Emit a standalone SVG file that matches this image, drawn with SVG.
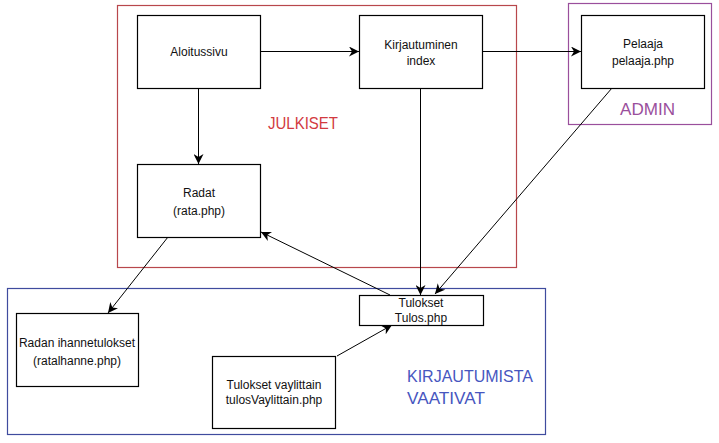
<svg xmlns="http://www.w3.org/2000/svg" width="719" height="443" viewBox="0 0 719 443">
<defs>
<marker id="arr" viewBox="0 0 10 10" refX="10" refY="5" markerWidth="10" markerHeight="10" markerUnits="userSpaceOnUse" orient="auto">
<path d="M0,0 L10,5 L0,10 L3,5 Z" fill="#000"/>
</marker>
</defs>
<style>
.node rect{fill:#fff;stroke:#000;stroke-width:1.2}
.node text{font-family:"Liberation Sans",Arial,sans-serif;font-size:12px;fill:#111;text-anchor:middle}
.conn line{stroke:#000;stroke-width:1;marker-end:url(#arr)}
.grp{fill:none;stroke-width:1.2}
.lbl{font-family:"Liberation Sans",Arial,sans-serif;font-size:17px}
</style>
<rect width="719" height="443" fill="#fff"/>
<g id="group-julkiset">
<rect class="grp" x="117.5" y="5.5" width="399" height="262" stroke="#b8474c"/>
<text class="lbl" x="268" y="129" fill="#d23a40" textLength="70" lengthAdjust="spacingAndGlyphs">JULKISET</text>
</g>
<g id="group-admin">
<rect class="grp" x="568.5" y="3.5" width="143" height="121" stroke="#9a4f9c"/>
<text class="lbl" x="620" y="115" fill="#9a4f9c" textLength="55" lengthAdjust="spacingAndGlyphs">ADMIN</text>
</g>
<g id="group-kirjautumista">
<rect class="grp" x="7.5" y="288.5" width="538" height="146" stroke="#3f4b9e"/>
<text class="lbl" x="407" y="382" fill="#4756bf" textLength="126" lengthAdjust="spacingAndGlyphs">KIRJAUTUMISTA</text>
<text class="lbl" x="407" y="404" fill="#4756bf" textLength="78" lengthAdjust="spacingAndGlyphs">VAATIVAT</text>
</g>
<g class="conn" id="connectors">
<line x1="260" y1="51.5" x2="359" y2="51.5"/>
<line x1="482" y1="51.5" x2="581" y2="51.5"/>
<line x1="198.5" y1="88" x2="198.5" y2="164"/>
<line x1="420.5" y1="88" x2="420.5" y2="295"/>
<line x1="612" y1="88" x2="435" y2="294"/>
<line x1="168" y1="237" x2="108" y2="313"/>
<line x1="390" y1="295" x2="261" y2="232"/>
<line x1="337" y1="356" x2="392" y2="325"/>
</g>
<g class="node" id="aloitussivu">
<rect x="137.5" y="15.5" width="123" height="73"/>
<text x="199" y="56">Aloitussivu</text>
</g>
<g class="node" id="kirjautuminen">
<rect x="359.5" y="15.5" width="123" height="73"/>
<text x="421" y="49">Kirjautuminen</text>
<text x="421" y="65">index</text>
</g>
<g class="node" id="pelaaja">
<rect x="581.5" y="15.5" width="123" height="73"/>
<text x="643" y="48">Pelaaja</text>
<text x="643" y="65">pelaaja.php</text>
</g>
<g class="node" id="radat">
<rect x="137.5" y="164.5" width="123" height="73"/>
<text x="199" y="197">Radat</text>
<text x="199" y="215">(rata.php)</text>
</g>
<g class="node" id="ihannetulokset">
<rect x="16.5" y="313.5" width="122" height="73"/>
<text x="77" y="347">Radan ihannetulokset</text>
<text x="77" y="365">(ratalhanne.php)</text>
</g>
<g class="node" id="tulokset">
<rect x="359.5" y="295.5" width="124" height="30"/>
<text x="421" y="307">Tulokset</text>
<text x="421" y="322">Tulos.php</text>
</g>
<g class="node" id="vaylittain">
<rect x="212.5" y="356.5" width="123" height="72"/>
<text x="274" y="389">Tulokset vaylittain</text>
<text x="274" y="404">tulosVaylittain.php</text>
</g>
</svg>
